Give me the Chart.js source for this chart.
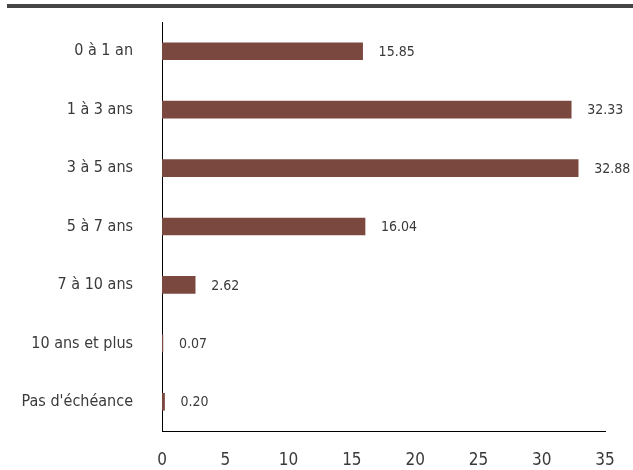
<!DOCTYPE html>
<html>
<head>
<meta charset="utf-8">
<script src="https://cdn.jsdelivr.net/npm/chart.js@4"></script>
<style>
  html, body { margin: 0; padding: 0; background: #fff; }
  #wrap { width: 633px; height: 470px; }
</style>
</head>
<body>
<div id="wrap"><canvas id="chart" width="633" height="470"></canvas></div>
<script>
const categories = ["0 à 1 an", "1 à 3 ans", "3 à 5 ans", "5 à 7 ans", "7 à 10 ans", "10 ans et plus", "Pas d'échéance"];
const values = [15.85, 32.33, 32.88, 16.04, 2.62, 0.07, 0.20];
const xTicks = [0, 5, 10, 15, 20, 25, 30, 35];

const FONT = "'Liberation Sans Narrow', 'DejaVu Sans Condensed', 'Roboto', sans-serif";

// trait épais en haut + étiquettes de valeurs
const decor = {
  id: "decor",
  afterDraw(chart) {
    const ctx = chart.ctx;
    ctx.save();
    ctx.fillStyle = "#454545";
    ctx.fillRect(7, 4, chart.width - 7, 4);
    ctx.font = "14px " + FONT;
    ctx.fillStyle = "#3a3a3a";
    ctx.textBaseline = "middle";
    chart.getDatasetMeta(0).data.forEach((bar, i) => {
      ctx.fillText(values[i].toFixed(2), bar.x + 16, bar.y + 1);
    });
    ctx.restore();
  }
};

new Chart(document.getElementById("chart"), {
  type: "bar",
  data: {
    labels: categories,
    datasets: [{
      data: values,
      backgroundColor: "#7b4840",
      barThickness: 17
    }]
  },
  options: {
    indexAxis: "y",
    responsive: false,
    animation: false,
    layout: { padding: { top: 22, right: 28, left: 0, bottom: 0 } },
    plugins: { legend: { display: false }, tooltip: { enabled: false } },
    scales: {
      x: {
        min: 0,
        max: 35,
        afterBuildTicks: (s) => { s.ticks = xTicks.map(v => ({ value: v })); },
        afterFit: (s) => { s.height = 39; s.paddingRight = 0; },
        grid: { display: false },
        border: { display: true, color: "#000", width: 1 },
        ticks: { color: "#3a3a3a", font: { family: FONT, size: 17 }, padding: 11 }
      },
      y: {
        afterFit: (s) => { s.width = 162; s.paddingTop = 0; s.paddingBottom = 0; },
        grid: { display: false },
        border: { display: true, color: "#000", width: 1 },
        ticks: { color: "#3a3a3a", font: { family: FONT, size: 16 }, padding: 21 }
      }
    }
  },
  plugins: [decor]
});
</script>
</body>
</html>
